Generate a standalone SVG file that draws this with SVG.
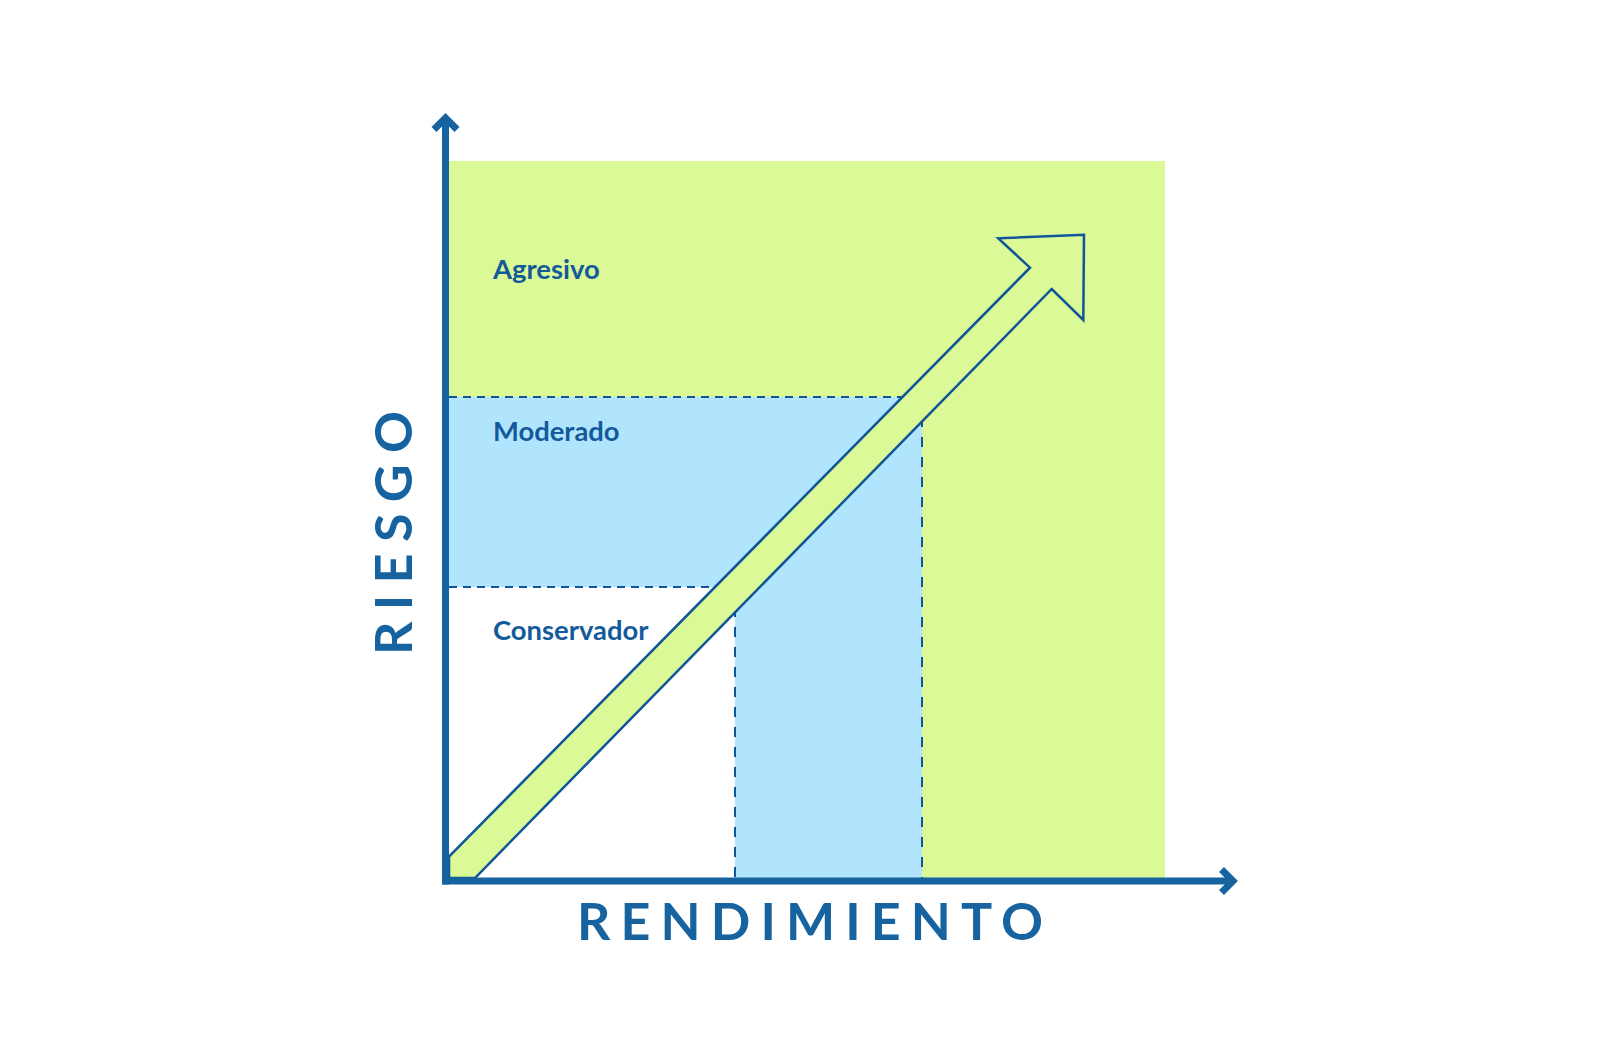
<svg xmlns="http://www.w3.org/2000/svg" width="1600" height="1046" viewBox="0 0 1600 1046">
<style>
.axis{fill:none;stroke:#17639f;stroke-width:7;stroke-linejoin:miter}
.dash{fill:none;stroke:#0f5597;stroke-width:2;stroke-dasharray:8 6}
.dashv{fill:none;stroke:#0f5597;stroke-width:2;stroke-dasharray:10 10}
.lbl{font-family:Lato,"Liberation Sans",sans-serif;font-weight:bold;font-size:27.4px;fill:#125a9b}
.title{font-family:Lato,"Liberation Sans",sans-serif;font-weight:bold;font-size:52px;fill:#17639f}
</style>
<rect width="1600" height="1046" fill="#ffffff"/>
<g id="zones">
<rect id="zone-agresivo" x="449" y="161" width="716" height="717" fill="#dbf996"/>
<polygon id="zone-moderado" points="449,397 922,397 922,878 735,878 735,587 449,587" fill="#b0e5fd"/>
<rect id="zone-conservador" x="449" y="587" width="286" height="291" fill="#ffffff"/>
</g>
<g id="connectors">
<line class="dash" x1="449" y1="397" x2="922" y2="397"/>
<line class="dash" x1="449" y1="587" x2="735" y2="587"/>
<line class="dashv" x1="735" y1="587" x2="735" y2="878"/>
<line class="dashv" x1="922" y1="397" x2="922" y2="878"/>
</g>
<g id="trend-arrow">
<polygon points="449,856.7 1030,267.7 998.3,238.3 1084,234.7 1083.3,320 1051.7,289 475,878 449,878" fill="#dbf996" stroke="#0f5597" stroke-width="2.5" stroke-linejoin="miter"/>
</g>
<g id="axes">
<line class="axis" x1="445.5" y1="117" x2="445.5" y2="884.5"/>
<line class="axis" x1="442" y1="881" x2="1233" y2="881"/>
<polyline class="axis" points="434,129.5 445.5,118 457,129.5"/>
<polyline class="axis" points="1221.5,869.5 1233,881 1221.5,892.5"/>
</g>
<g id="label-agresivo"><text class="lbl" x="493" y="279">Agresivo</text></g>
<g id="label-moderado"><text class="lbl" x="493" y="441">Moderado</text></g>
<g id="label-conservador"><text class="lbl" x="493" y="640">Conservador</text></g>
<g id="axis-title-x"><text class="title" x="577" y="940" textLength="466" lengthAdjust="spacing">RENDIMIENTO</text></g>
<g id="axis-title-y"><text class="title" transform="translate(412,655) rotate(-90)" x="0" y="0" textLength="244" lengthAdjust="spacing">RIESGO</text></g>
</svg>
